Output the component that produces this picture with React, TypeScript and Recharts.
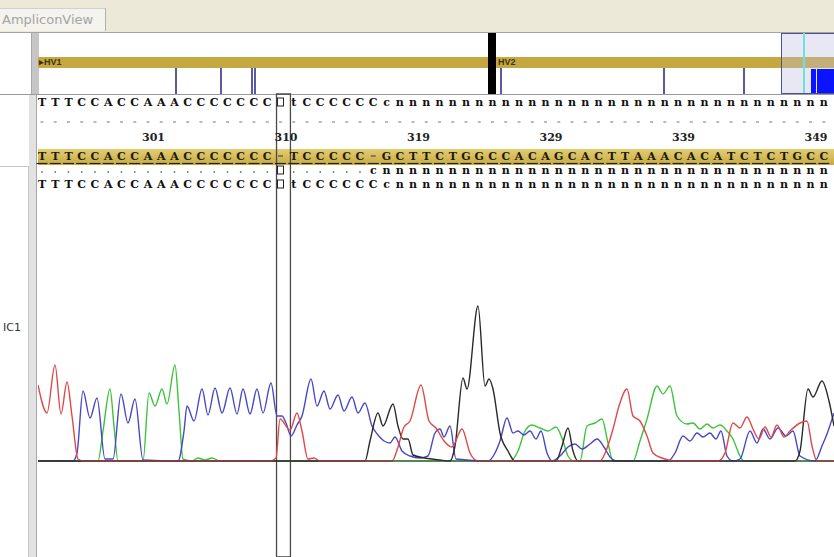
import { ComposedChart, Line, XAxis, YAxis, ReferenceLine, ReferenceArea } from 'recharts'

// trace samples: [scan, signal]
const traceA = [
  [0, 0], [60, 0], [65, 30], [72, 72], [76, 35], [80, 0], [105, 0], [111, 68], [117, 55],
  [124, 72], [129, 57], [137, 96], [141, 50], [145, 2], [154, 0], [160, 3], [167, 1], [174, 3],
  [182, 0], [472, 0], [480, 10], [487, 30], [494, 36], [502, 33], [510, 30], [518, 34],
  [525, 20], [530, 5], [536, 0], [542, 0], [549, 35], [557, 38], [564, 42], [570, 18], [575, 0],
  [595, 0], [602, 20], [609, 42], [619, 75], [625, 67], [632, 75], [639, 45], [649, 37],
  [655, 38], [662, 32], [669, 37], [675, 33], [682, 36], [689, 30], [695, 22], [702, 5],
  [706, 0], [796, 0],
]
const traceC = [
  [0, 0], [35, 0], [39, 8], [45, 70], [52, 43], [59, 63], [67, 2], [75, 2], [83, 67], [90, 38],
  [97, 62], [105, 1], [140, 0], [146, 30], [149, 55], [156, 40], [164, 72], [170, 46], [177, 73],
  [184, 48], [192, 73], [199, 47], [205, 72], [212, 47], [219, 72], [225, 48], [233, 78],
  [239, 45], [244, 45], [248, 38], [253, 25], [259, 36], [264, 45], [273, 82], [279, 55],
  [286, 70], [292, 52], [300, 66], [306, 50], [314, 64], [320, 48], [327, 58], [334, 35],
  [340, 26], [346, 20], [352, 18], [357, 24], [364, 10], [372, 5], [382, 3], [390, 5], [397, 28],
  [402, 32], [406, 24], [412, 35], [418, 2], [450, 0], [457, 8], [462, 20], [469, 43], [475, 28],
  [480, 30], [486, 26], [492, 30], [498, 22], [503, 30], [509, 8], [514, 0], [522, 5], [530, 14],
  [537, 17], [544, 12], [552, 17], [559, 22], [566, 14], [572, 4], [579, 0], [630, 0], [637, 8],
  [645, 25], [652, 20], [659, 28], [665, 24], [672, 28], [678, 22], [683, 30], [689, 5], [695, 0],
  [702, 2], [712, 30], [719, 18], [725, 32], [732, 22], [740, 33], [748, 25], [755, 30], [762, 5],
  [777, 0], [784, 15], [789, 27], [796, 48],
]
const traceG = [
  [0, 0], [327, 0], [332, 20], [340, 48], [345, 35], [355, 57], [360, 35], [365, 22], [370, 22],
  [375, 6], [387, 3], [402, 1], [412, 0], [417, 15], [425, 83], [429, 72], [440, 155], [447, 75],
  [451, 82], [455, 72], [462, 28], [470, 10], [477, 0], [518, 0], [524, 15], [530, 33], [535, 10],
  [540, 0], [757, 0], [762, 10], [770, 72], [775, 64], [784, 80], [791, 60], [796, 35],
]
const traceT = [
  [0, 76], [9, 48], [17, 96], [23, 47], [29, 79], [34, 45], [40, 2], [46, 0], [232, 0], [238, 3],
  [242, 42], [252, 31], [259, 48], [264, 30], [270, 2], [276, 3], [282, 0], [354, 0], [360, 14],
  [366, 34], [372, 40], [383, 76], [391, 40], [398, 33], [406, 20], [414, 14], [424, 32], [432, 8],
  [440, 0], [562, 0], [568, 10], [575, 32], [581, 55], [589, 72], [595, 45], [602, 40], [609, 25],
  [615, 8], [624, 3], [637, 0], [680, 0], [687, 8], [695, 38], [702, 33], [709, 44], [715, 32],
  [721, 22], [727, 34], [733, 24], [739, 36], [746, 24], [752, 30], [762, 38], [769, 40],
  [774, 15], [779, 0], [796, 0],
]

const readRow = 'TTTCCACCAAACCCCCCC□tCCCCCCc' + 'n'.repeat(33)
const refRow = 'TTTCCACCAAACCCCCCC-TCCCCC-GCTTCTGGCCACAGCACTTAAACACATCTCTGCC'
const diffRow = '.'.repeat(18) + '□' + '.'.repeat(6) + 'c' + 'n'.repeat(34)
const columns = Array.from({ length: refRow.length }, (_, i) => i)
const positionLabels: Record<number, string> = { 8: '301', 18: '310', 28: '319', 38: '329', 48: '339', 58: '349' }

// overview strip
const variantSites = [137, 182, 213, 216, 462, 625, 705]
const regionMarks = [
  { name: 'HV1', at: 0 },
  { name: 'HV2', at: 459 },
]

const toPts = (rows: number[][]) => rows.map(([s, v]) => ({ s, v }))
const channels = [
  { key: 'A', data: toPts(traceA), color: '#3cc43c' },
  { key: 'C', data: toPts(traceC), color: '#4848c6' },
  { key: 'G', data: toPts(traceG), color: '#2a2a2a' },
  { key: 'T', data: toPts(traceT), color: '#e04848' },
]
// one empty slot per sequence column, keeps the column axis alive
const columnSlots = columns.map((c) => ({ col: c, v: null }))

const seqFont = "'DejaVu Serif', 'Liberation Serif', serif"

function glyph(ch: string, x: number, y: number, fill = '#111') {
  if (ch === '□') return <rect x={x - 3} y={y - 4} width={6} height={8} fill="none" stroke="#222" strokeWidth={1} />
  if (ch === '.') return <circle cx={x} cy={y + 2} r={0.9} fill="#777" />
  if (ch === '-') return <line x1={x - 2.5} x2={x + 2.5} y1={y} y2={y} stroke="#555" strokeWidth={1.3} />
  return (
    <text x={x} y={y} textAnchor="middle" dominantBaseline="central" fill={fill}>
      {ch}
    </text>
  )
}

function SeqTick(props: any) {
  const { x, payload } = props
  const c = payload.value as number
  const label = positionLabels[c]
  return (
    <g fontFamily={seqFont} fontWeight="bold" fontSize={11}>
      {glyph(readRow[c], x, 102)}
      <line x1={x - 1.5} x2={x + 1.5} y1={122} y2={122} stroke="#8c8c8c" strokeWidth={1.2} />
      {label && (
        <text x={x - 6} y={137} dominantBaseline="central" fill="#222" fontSize={11}>
          {label}
        </text>
      )}
      {glyph(refRow[c], x, 156, '#1c1a08')}
      <line x1={x - 5.5} x2={x + 5.5} y1={163.5} y2={163.5} stroke="#222" strokeWidth={1.2} />
      {glyph(diffRow[c], x, 170)}
      {glyph(readRow[c], x, 184)}
    </g>
  )
}

function Overview() {
  const left = 38
  return (
    <div style={{ position: 'absolute', left: 0, top: 33, width: 834, height: 61, background: '#fff', borderBottom: '1px solid #9a9a9a' }}>
      <div style={{ position: 'absolute', left: 31, top: 0, width: 7, height: 61, background: '#c6c6c6', borderLeft: '1px solid #a8a8a8' }} />
      <div style={{ position: 'absolute', left, top: 24, width: 796, height: 11, background: '#c5a940' }} />
      {variantSites.map((p) => (
        <div key={p} style={{ position: 'absolute', left: left + p, top: 35, width: 1.5, height: 26, background: '#5a5aa6' }} />
      ))}
      {regionMarks.map((r) => (
        <div key={r.name}>
          {r.at > 0 && (
            <div style={{ position: 'absolute', left: left + r.at - 9, top: 0, width: 8, height: 61, background: '#000' }} />
          )}
          <div
            style={{
              position: 'absolute', left: left + r.at + 1, top: 24, height: 11, lineHeight: '11px',
              fontFamily: "'Liberation Sans', Arial, sans-serif", fontSize: 9, fontWeight: 'bold', color: '#3b3415',
            }}
          >
            {r.at === 0 ? '▸' : ''}{r.name}
          </div>
        </div>
      ))}
      <div style={{ position: 'absolute', left: 781, top: 0, width: 60, height: 59, background: 'rgba(190,190,225,0.35)', border: '1.5px solid #50509a' }} />
      <div style={{ position: 'absolute', left: 803, top: 0, width: 1.5, height: 60, background: '#6fe0e0' }} />
      <div style={{ position: 'absolute', left: 811, top: 36, width: 5, height: 24, background: '#0a14ff' }} />
      <div style={{ position: 'absolute', left: 817, top: 36, width: 17, height: 24, background: '#0a14ff' }} />
    </div>
  )
}

export default function App() {
  return (
    <div style={{ position: 'absolute', left: 0, top: 0, width: 834, height: 557, overflow: 'hidden', background: '#fff' }}>
      <div style={{ position: 'absolute', left: 0, top: 0, width: 834, height: 32, background: '#ece9d8', borderBottom: '1px solid #a4a4a4' }}>
        <div
          style={{
            position: 'absolute', left: 0, top: 8, width: 106, height: 23, background: '#f4f3ee',
            borderRight: '1px solid #b0b0b0', borderTop: '1px solid #d0d0d0',
            fontFamily: "'DejaVu Sans', sans-serif", fontSize: 13, color: '#a4a4a4', lineHeight: '22px', paddingLeft: 2,
            boxSizing: 'border-box',
          }}
        >
          AmpliconView
        </div>
      </div>
      <Overview />
      {/* left label column */}
      <div style={{ position: 'absolute', left: 0, top: 166, width: 28, height: 391, borderTop: '1px solid #c4c4c4', borderRight: '1px solid #c4c4c4' }} />
      <div style={{ position: 'absolute', left: 29, top: 95, width: 7, height: 462, background: '#e2e2e2', borderRight: '1px solid #a8a8a8' }} />
      <div style={{ position: 'absolute', left: 3, top: 321, fontFamily: "'DejaVu Sans', sans-serif", fontSize: 11, color: '#333' }}>IC1</div>
      {/* reference row background */}
      <div style={{ position: 'absolute', left: 38, top: 149, width: 796, height: 16, background: 'linear-gradient(#e2cd72, #c8ab42)' }} />
      <div style={{ position: 'absolute', left: 0, top: 0 }}>
        <ComposedChart width={834} height={557} margin={{ top: 0, right: 0, bottom: 0, left: 38 }}>
          <XAxis xAxisId="scan" type="number" dataKey="s" domain={[0, 796]} allowDataOverflow hide />
          <XAxis
            xAxisId="col"
            type="number"
            dataKey="col"
            orientation="top"
            mirror
            domain={[-0.3, 59.77]}
            allowDataOverflow
            ticks={columns}
            interval={0}
            height={20}
            axisLine={false}
            tickLine={false}
            tick={(p: any) => <SeqTick {...p} />}
          />
          <YAxis type="number" domain={[-96, 461]} allowDataOverflow hide />
          <Line xAxisId="col" data={columnSlots} dataKey="v" stroke="none" dot={false} isAnimationActive={false} />
          <ReferenceArea xAxisId="col" x1={17.7} x2={18.75} y1={-96} y2={367} fill="none" stroke="#4a4a4a" strokeWidth={1.3} />
          {channels.map((ch) => (
            <Line
              key={ch.key}
              xAxisId="scan"
              data={ch.data}
              dataKey="v"
              type="monotone"
              stroke={ch.color}
              strokeWidth={1.4}
              dot={false}
              isAnimationActive={false}
            />
          ))}
          <ReferenceLine xAxisId="scan" y={0} stroke="#3c3c3c" strokeWidth={1.2} />
        </ComposedChart>
      </div>
    </div>
  )
}
